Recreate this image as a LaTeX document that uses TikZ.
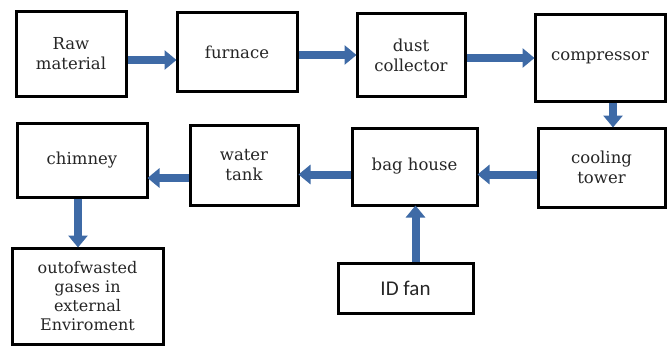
\documentclass[tikz,border=0pt]{standalone}
\usepackage{fontspec}
\setmainfont{DejaVu Serif}
\newfontfamily\fansans{Carlito}
\usetikzlibrary{arrows.meta}
\definecolor{arrblue}{RGB}{62,106,166}
\tikzset{
  blk/.style={draw=black, line width=3pt, fill=white, align=center, inner sep=2pt,
    text=black!85, font=\fontsize{16.5}{20}\selectfont},
  arr/.style={draw=arrblue, line width=8pt, -{Triangle[length=12pt,width=19pt]}, shorten >=-1pt}
}
\begin{document}
\begin{tikzpicture}[x=1pt,y=-1pt]
\useasboundingbox (0,0) rectangle (671,345);
\node[blk, minimum width=110pt, minimum height=84pt] (raw) at (71,54) {Raw\\material};
\node[blk, minimum width=120pt, minimum height=78pt] (furn) at (237,52) {furnace};
\node[blk, minimum width=108pt, minimum height=82pt] (dust) at (411,55) {dust\\collector};
\node[blk, minimum width=130pt, minimum height=86pt] (comp) at (600,58) {compressor};
\node[blk, minimum width=127pt, minimum height=79pt] (cool) at (601.5,167.5) {cooling\\tower};
\node[blk, minimum width=125pt, minimum height=77pt] (bag) at (414.5,166.5) {bag house};
\node[blk, minimum width=108pt, minimum height=80pt] (water) at (244,165) {water\\tank};
\node[blk, minimum width=130pt, minimum height=74pt] (chim) at (82,160) {chimney};
\node[blk, minimum width=151pt, minimum height=96pt, font=\fontsize{16}{19}\selectfont] (out) at (87.5,296) {outofwasted\\gases in\\external\\Enviroment};
\node[blk, minimum width=135pt, minimum height=50pt, font=\fansans\fontsize{21}{24}\selectfont] (fan) at (405.5,288) {ID fan};
\draw[arr] ([yshift=-6pt]raw.east) -- ([yshift=-6pt]raw.east -| furn.west);
\draw[arr] ([yshift=-3pt]furn.east) -- ([yshift=-3pt]furn.east -| dust.west);
\draw[arr] ([yshift=-3pt]dust.east) -- ([yshift=-3pt]dust.east -| comp.west);
\draw[arr] ([xshift=13pt]comp.south) -- ([xshift=13pt]comp.south |- cool.north);
\draw[arr] ([yshift=-7pt]cool.west) -- ([yshift=-7pt]cool.west -| bag.east);
\draw[arr] ([yshift=-8pt]bag.west) -- ([yshift=-8pt]bag.west -| water.east);
\draw[arr] ([yshift=-13pt]water.west) -- ([yshift=-13pt]water.west -| chim.east);
\draw[arr] ([xshift=-4pt]chim.south) -- ([xshift=-4pt]chim.south |- out.north);
\draw[arr] ([xshift=10pt]fan.north) -- ([xshift=10pt]fan.north |- bag.south);
\end{tikzpicture}
\end{document}
